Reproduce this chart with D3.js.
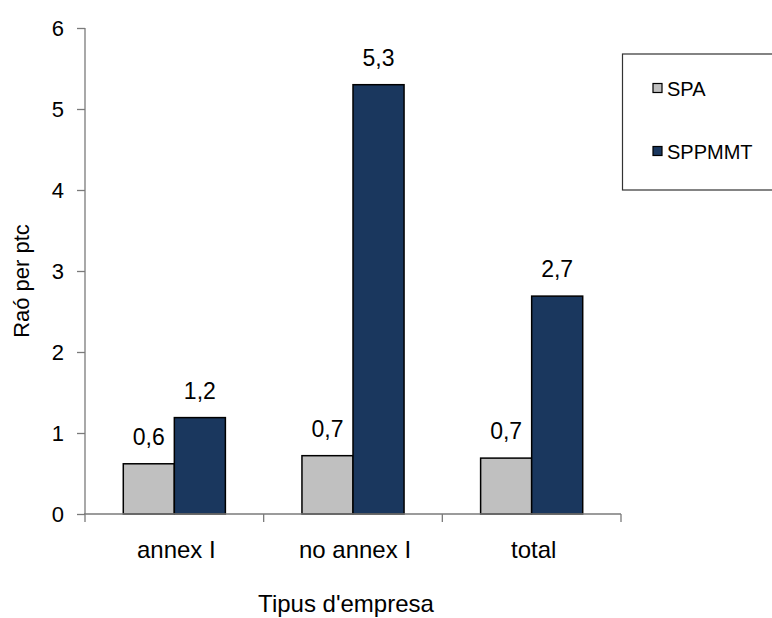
<!DOCTYPE html>
<html>
<head>
<meta charset="utf-8">
<script src="https://cdn.jsdelivr.net/npm/d3@7"></script>
<style>
  body { margin: 0; background: #fff; }
  text { font-family: "Liberation Sans", Arial, sans-serif; fill: #000; }
</style>
</head>
<body>
<div id="plotdiv"></div>
<script>
// data
const categories = ["annex I", "no annex I", "total"];
const seriesNames = ["SPA", "SPPMMT"];
const spaValues = [0.62, 0.72, 0.69];
const sppmmtValues = [1.19, 5.3, 2.69];
const spaLabels = ["0,6", "0,7", "0,7"];
const sppmmtLabels = ["1,2", "5,3", "2,7"];
const yTicks = [0, 1, 2, 3, 4, 5, 6];

const seriesColors = { SPA: "#c0c0c0", SPPMMT: "#1a375e" };

const width = 772, height = 618;
const plotLeft = 85, plotRight = 621, plotTop = 28, plotBottom = 514;

const svg = d3.select("#plotdiv")
  .append("svg")
  .attr("width", width)
  .attr("height", height);

// scales
const x0 = d3.scaleBand()
  .domain(categories)
  .range([plotLeft, plotRight])
  .padding(0);

const x1 = d3.scaleBand()
  .domain(seriesNames)
  .range([0, x0.bandwidth()])
  .paddingInner(0)
  .paddingOuter(0.75);

const y = d3.scaleLinear()
  .domain([0, 6])
  .range([plotBottom, plotTop]);

// rows for bars
const rows = categories.flatMap((c, i) => [
  { cat: c, series: "SPA", value: spaValues[i], label: spaLabels[i] },
  { cat: c, series: "SPPMMT", value: sppmmtValues[i], label: sppmmtLabels[i] }
]);

// bars
svg.selectAll("rect.bar")
  .data(rows)
  .enter()
  .append("rect")
  .attr("class", "bar")
  .attr("x", d => x0(d.cat) + x1(d.series))
  .attr("y", d => y(d.value))
  .attr("width", x1.bandwidth())
  .attr("height", d => y(0) - y(d.value))
  .style("fill", d => seriesColors[d.series])
  .style("stroke", "#000")
  .style("stroke-width", 1.5);

// value labels
svg.selectAll("text.val")
  .data(rows)
  .enter()
  .append("text")
  .attr("class", "val")
  .attr("x", d => x0(d.cat) + x1(d.series) + x1.bandwidth() / 2)
  .attr("y", d => y(d.value) - 19)
  .attr("text-anchor", "middle")
  .style("font-size", "23px")
  .text(d => d.label);

// y axis
const yAxis = svg.append("g")
  .attr("transform", "translate(" + plotLeft + ",0)")
  .call(d3.axisLeft(y).tickValues(yTicks).tickSize(8).tickPadding(13).tickFormat(d3.format("d")));
yAxis.select(".domain").attr("d", "M0," + plotTop + "V" + plotBottom);
yAxis.selectAll("line, path").style("stroke", "#7a7a7a").style("stroke-width", 1.3);
yAxis.selectAll("text").style("font-size", "22px").style("font-family", "Liberation Sans, Arial, sans-serif").attr("fill", "#000");

// x axis
const xEdges = categories.map(c => x0(c)).concat([plotRight]);
const xAxis = svg.append("g")
  .attr("transform", "translate(0," + plotBottom + ")");
xAxis.append("line")
  .attr("x1", plotLeft - 1).attr("x2", plotRight)
  .attr("y1", 0).attr("y2", 0)
  .style("stroke", "#7a7a7a").style("stroke-width", 1.3);
xAxis.selectAll("line.tick")
  .data(xEdges)
  .enter()
  .append("line")
  .attr("class", "tick")
  .attr("x1", d => d).attr("x2", d => d)
  .attr("y1", 0).attr("y2", 8)
  .style("stroke", "#7a7a7a").style("stroke-width", 1.3);
xAxis.selectAll("text")
  .data(categories)
  .enter()
  .append("text")
  .attr("x", d => x0(d) + x0.bandwidth() / 2 + 2)
  .attr("y", 44)
  .attr("text-anchor", "middle")
  .style("font-size", "24px")
  .text(d => d);

// axis titles
svg.append("text")
  .attr("x", 346)
  .attr("y", 612)
  .attr("text-anchor", "middle")
  .style("font-size", "24px")
  .text("Tipus d'empresa");

svg.append("text")
  .attr("transform", "translate(29,281) rotate(-90)")
  .attr("text-anchor", "middle")
  .style("font-size", "22px")
  .text("Raó per ptc");

// legend
const legend = svg.append("g");
legend.append("rect")
  .attr("x", 622.5).attr("y", 54)
  .attr("width", 200).attr("height", 136)
  .style("fill", "#fff")
  .style("stroke", "#333")
  .style("stroke-width", 1.2);

const legendY = d3.scalePoint()
  .domain(seriesNames)
  .range([88, 151]);

const items = legend.selectAll("g.item")
  .data(seriesNames)
  .enter()
  .append("g")
  .attr("class", "item")
  .attr("transform", d => "translate(653," + legendY(d) + ")");
items.append("rect")
  .attr("x", 0).attr("y", -4.5)
  .attr("width", 9).attr("height", 9)
  .style("fill", d => seriesColors[d])
  .style("stroke", "#000")
  .style("stroke-width", 1.2);
items.append("text")
  .attr("x", 14)
  .attr("y", 7.5)
  .style("font-size", "20px")
  .text(d => d);
</script>
</body>
</html>
